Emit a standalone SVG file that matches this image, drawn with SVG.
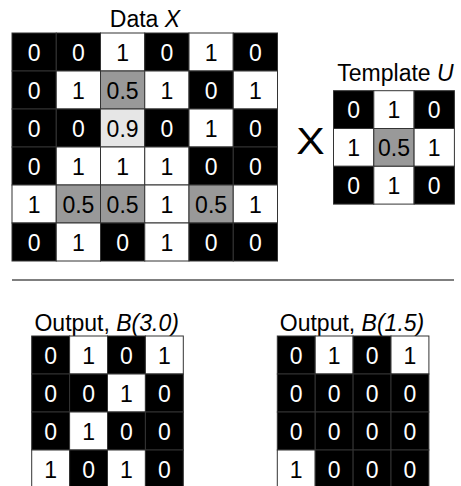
<svg xmlns="http://www.w3.org/2000/svg" width="461" height="486" viewBox="0 0 461 486">
<style>
text{font-family:"Liberation Sans",Arial,sans-serif;text-anchor:middle}
.t{font-size:23px;fill:#000}
.d{font-size:23px}
.k,.w,.g,.l{stroke:#333;stroke-width:1}
.k{fill:#000}.w{fill:#fff}.g{fill:#999}.l{fill:#e6e6e6}
.tw{fill:#fff}.tb{fill:#000}
</style>
<rect width="461" height="486" fill="#fff"/>
<g id="data-x">
<text class="t" x="145" y="27">Data <tspan font-style="italic">X</tspan></text>
<g transform="translate(12,33)">
<rect class="k" x="0" y="0" width="44.25" height="38"/><rect class="k" x="44.25" y="0" width="44.25" height="38"/><rect class="w" x="88.5" y="0" width="44.25" height="38"/><rect class="k" x="132.75" y="0" width="44.25" height="38"/><rect class="w" x="177" y="0" width="44.25" height="38"/><rect class="k" x="221.25" y="0" width="44.25" height="38"/>
<rect class="k" x="0" y="38" width="44.25" height="38"/><rect class="w" x="44.25" y="38" width="44.25" height="38"/><rect class="g" x="88.5" y="38" width="44.25" height="38"/><rect class="w" x="132.75" y="38" width="44.25" height="38"/><rect class="k" x="177" y="38" width="44.25" height="38"/><rect class="w" x="221.25" y="38" width="44.25" height="38"/>
<rect class="k" x="0" y="76" width="44.25" height="38"/><rect class="k" x="44.25" y="76" width="44.25" height="38"/><rect class="l" x="88.5" y="76" width="44.25" height="38"/><rect class="k" x="132.75" y="76" width="44.25" height="38"/><rect class="w" x="177" y="76" width="44.25" height="38"/><rect class="k" x="221.25" y="76" width="44.25" height="38"/>
<rect class="k" x="0" y="114" width="44.25" height="38"/><rect class="w" x="44.25" y="114" width="44.25" height="38"/><rect class="w" x="88.5" y="114" width="44.25" height="38"/><rect class="w" x="132.75" y="114" width="44.25" height="38"/><rect class="k" x="177" y="114" width="44.25" height="38"/><rect class="k" x="221.25" y="114" width="44.25" height="38"/>
<rect class="w" x="0" y="152" width="44.25" height="38"/><rect class="g" x="44.25" y="152" width="44.25" height="38"/><rect class="g" x="88.5" y="152" width="44.25" height="38"/><rect class="w" x="132.75" y="152" width="44.25" height="38"/><rect class="g" x="177" y="152" width="44.25" height="38"/><rect class="w" x="221.25" y="152" width="44.25" height="38"/>
<rect class="k" x="0" y="190" width="44.25" height="38"/><rect class="w" x="44.25" y="190" width="44.25" height="38"/><rect class="k" x="88.5" y="190" width="44.25" height="38"/><rect class="w" x="132.75" y="190" width="44.25" height="38"/><rect class="k" x="177" y="190" width="44.25" height="38"/><rect class="k" x="221.25" y="190" width="44.25" height="38"/>
<g class="d">
<text class="tw" x="22.1" y="28">0</text><text class="tw" x="66.4" y="28">0</text><text class="tb" x="110.6" y="28">1</text><text class="tw" x="154.9" y="28">0</text><text class="tb" x="199.1" y="28">1</text><text class="tw" x="243.4" y="28">0</text>
<text class="tw" x="22.1" y="66">0</text><text class="tb" x="66.4" y="66">1</text><text class="tb" x="110.6" y="66">0.5</text><text class="tb" x="154.9" y="66">1</text><text class="tw" x="199.1" y="66">0</text><text class="tb" x="243.4" y="66">1</text>
<text class="tw" x="22.1" y="104">0</text><text class="tw" x="66.4" y="104">0</text><text class="tb" x="110.6" y="104">0.9</text><text class="tw" x="154.9" y="104">0</text><text class="tb" x="199.1" y="104">1</text><text class="tw" x="243.4" y="104">0</text>
<text class="tw" x="22.1" y="142">0</text><text class="tb" x="66.4" y="142">1</text><text class="tb" x="110.6" y="142">1</text><text class="tb" x="154.9" y="142">1</text><text class="tw" x="199.1" y="142">0</text><text class="tw" x="243.4" y="142">0</text>
<text class="tb" x="22.1" y="180">1</text><text class="tb" x="66.4" y="180">0.5</text><text class="tb" x="110.6" y="180">0.5</text><text class="tb" x="154.9" y="180">1</text><text class="tb" x="199.1" y="180">0.5</text><text class="tb" x="243.4" y="180">1</text>
<text class="tw" x="22.1" y="218">0</text><text class="tb" x="66.4" y="218">1</text><text class="tw" x="110.6" y="218">0</text><text class="tb" x="154.9" y="218">1</text><text class="tw" x="199.1" y="218">0</text><text class="tw" x="243.4" y="218">0</text>
</g>
</g>
</g>
<g id="times">
<text x="310.5" y="154" style="font-size:37px" transform="translate(310.5,141) scale(1.15,1) translate(-310.5,-141)">X</text>
</g>
<g id="template-u">
<text class="t" x="395.5" y="81">Template <tspan font-style="italic">U</tspan></text>
<g transform="translate(333.5,90.7)">
<rect class="k" x="0" y="0" width="40.3" height="37.8"/><rect class="w" x="40.3" y="0" width="40.3" height="37.8"/><rect class="k" x="80.6" y="0" width="40.3" height="37.8"/>
<rect class="w" x="0" y="37.8" width="40.3" height="37.8"/><rect class="g" x="40.3" y="37.8" width="40.3" height="37.8"/><rect class="w" x="80.6" y="37.8" width="40.3" height="37.8"/>
<rect class="k" x="0" y="75.6" width="40.3" height="37.8"/><rect class="w" x="40.3" y="75.6" width="40.3" height="37.8"/><rect class="k" x="80.6" y="75.6" width="40.3" height="37.8"/>
<g class="d">
<text class="tw" x="20.15" y="27.5">0</text><text class="tb" x="60.45" y="27.5">1</text><text class="tw" x="100.75" y="27.5">0</text>
<text class="tb" x="20.15" y="65.3">1</text><text class="tb" x="60.45" y="65.3">0.5</text><text class="tb" x="100.75" y="65.3">1</text>
<text class="tw" x="20.15" y="103.1">0</text><text class="tb" x="60.45" y="103.1">1</text><text class="tw" x="100.75" y="103.1">0</text>
</g>
</g>
</g>
<g id="connectors">
<line x1="12" y1="280" x2="454" y2="280" stroke="#555" stroke-width="1.5"/>
</g>
<g id="output-b3">
<text class="t" x="106.7" y="331">Output, <tspan font-style="italic">B(3.0)</tspan></text>
<g transform="translate(31.7,336)">
<rect class="k" x="0" y="0" width="37.9" height="38"/><rect class="w" x="37.9" y="0" width="37.9" height="38"/><rect class="k" x="75.8" y="0" width="37.9" height="38"/><rect class="w" x="113.7" y="0" width="37.9" height="38"/>
<rect class="k" x="0" y="38" width="37.9" height="38"/><rect class="k" x="37.9" y="38" width="37.9" height="38"/><rect class="w" x="75.8" y="38" width="37.9" height="38"/><rect class="k" x="113.7" y="38" width="37.9" height="38"/>
<rect class="k" x="0" y="76" width="37.9" height="38"/><rect class="w" x="37.9" y="76" width="37.9" height="38"/><rect class="k" x="75.8" y="76" width="37.9" height="38"/><rect class="k" x="113.7" y="76" width="37.9" height="38"/>
<rect class="w" x="0" y="114" width="37.9" height="38"/><rect class="k" x="37.9" y="114" width="37.9" height="38"/><rect class="w" x="75.8" y="114" width="37.9" height="38"/><rect class="k" x="113.7" y="114" width="37.9" height="38"/>
<g class="d">
<text class="tw" x="18.95" y="28">0</text><text class="tb" x="56.85" y="28">1</text><text class="tw" x="94.75" y="28">0</text><text class="tb" x="132.65" y="28">1</text>
<text class="tw" x="18.95" y="66">0</text><text class="tw" x="56.85" y="66">0</text><text class="tb" x="94.75" y="66">1</text><text class="tw" x="132.65" y="66">0</text>
<text class="tw" x="18.95" y="104">0</text><text class="tb" x="56.85" y="104">1</text><text class="tw" x="94.75" y="104">0</text><text class="tw" x="132.65" y="104">0</text>
<text class="tb" x="18.95" y="142">1</text><text class="tw" x="56.85" y="142">0</text><text class="tb" x="94.75" y="142">1</text><text class="tw" x="132.65" y="142">0</text>
</g>
</g>
</g>
<g id="output-b15">
<text class="t" x="352" y="331">Output, <tspan font-style="italic">B(1.5)</tspan></text>
<g transform="translate(277.3,336)">
<rect class="k" x="0" y="0" width="37.9" height="38"/><rect class="w" x="37.9" y="0" width="37.9" height="38"/><rect class="k" x="75.8" y="0" width="37.9" height="38"/><rect class="w" x="113.7" y="0" width="37.9" height="38"/>
<rect class="k" x="0" y="38" width="37.9" height="38"/><rect class="k" x="37.9" y="38" width="37.9" height="38"/><rect class="k" x="75.8" y="38" width="37.9" height="38"/><rect class="k" x="113.7" y="38" width="37.9" height="38"/>
<rect class="k" x="0" y="76" width="37.9" height="38"/><rect class="k" x="37.9" y="76" width="37.9" height="38"/><rect class="k" x="75.8" y="76" width="37.9" height="38"/><rect class="k" x="113.7" y="76" width="37.9" height="38"/>
<rect class="w" x="0" y="114" width="37.9" height="38"/><rect class="k" x="37.9" y="114" width="37.9" height="38"/><rect class="k" x="75.8" y="114" width="37.9" height="38"/><rect class="k" x="113.7" y="114" width="37.9" height="38"/>
<g class="d">
<text class="tw" x="18.95" y="28">0</text><text class="tb" x="56.85" y="28">1</text><text class="tw" x="94.75" y="28">0</text><text class="tb" x="132.65" y="28">1</text>
<text class="tw" x="18.95" y="66">0</text><text class="tw" x="56.85" y="66">0</text><text class="tw" x="94.75" y="66">0</text><text class="tw" x="132.65" y="66">0</text>
<text class="tw" x="18.95" y="104">0</text><text class="tw" x="56.85" y="104">0</text><text class="tw" x="94.75" y="104">0</text><text class="tw" x="132.65" y="104">0</text>
<text class="tb" x="18.95" y="142">1</text><text class="tw" x="56.85" y="142">0</text><text class="tw" x="94.75" y="142">0</text><text class="tw" x="132.65" y="142">0</text>
</g>
</g>
</g>
</svg>
